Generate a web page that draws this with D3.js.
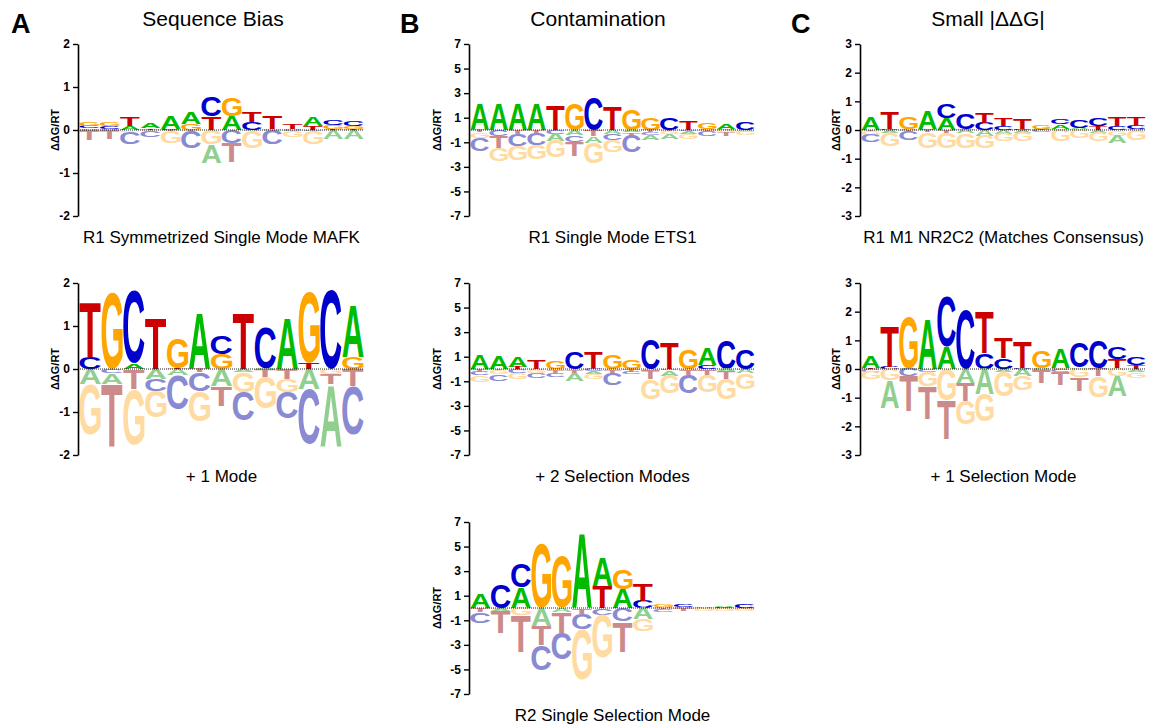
<!DOCTYPE html>
<html>
<head>
<meta charset="utf-8">
<script src="https://cdn.jsdelivr.net/npm/d3@7"></script>
<style>
  body { margin: 0; background: #fff; }
  svg text { font-family: "Liberation Sans", Arial, Helvetica, sans-serif; }
</style>
</head>
<body>
<svg id="fig" width="1158" height="725"></svg>
<script>
// ---- data: ΔΔG/RT per position, columns in the order of `bases` ----
const bases = ["A", "C", "G", "T"];

const mafkR1 = [
  [0.04, 0.05, 0.10, -0.23], [0.02, 0.07, 0.10, -0.22], [0.09, -0.28, -0.04, 0.22],
  [0.12, -0.14, -0.02, 0.04], [0.30, 0.03, -0.28, -0.03], [0.27, -0.40, 0.15, -0.03],
  [-0.43, 0.46, -0.33, 0.31], [0.33, -0.31, 0.44, -0.44], [-0.03, 0.18, -0.40, 0.25],
  [-0.02, -0.32, 0.03, 0.30], [0.03, -0.02, -0.14, 0.12], [0.21, -0.02, -0.30, 0.10],
  [-0.22, 0.11, 0.09, 0.02], [-0.22, 0.12, 0.05, 0.03]
];

const mafkPlusMode = [
  [-0.36, 0.28, -1.17, 1.28], [-0.25, -0.10, 1.77, -1.45], [0.13, 1.67, -1.30, -0.46],
  [-0.23, -0.28, -0.62, 1.18], [-0.15, -0.80, 0.71, 0.02], [1.30, -0.43, -0.70, -0.08],
  [-0.40, 0.43, 0.35, -0.46], [-0.06, -0.66, -0.47, 1.30], [0.02, 0.95, -0.74, -0.18],
  [1.18, -0.62, -0.30, -0.23], [-0.47, -1.28, 1.65, 0.15], [-1.43, 1.84, -0.12, -0.23],
  [1.20, -1.12, 0.27, -0.40]
];

const ets1R1 = [
  [2.10, -1.10, -0.45, -0.20], [2.15, -0.50, -1.05, -0.95], [2.15, -0.95, -1.15, -0.35],
  [2.15, -0.90, -1.15, -0.35], [-0.60, -0.30, -1.35, 2.05], [-0.40, -0.55, 2.10, -1.20],
  [-0.55, 2.70, -1.70, -0.50], [-0.30, -0.55, -0.95, 1.90], [-0.20, -1.35, 1.70, -0.25],
  [-0.40, -0.25, 0.95, -0.15], [-0.40, 0.95, -0.25, -0.10], [-0.20, -0.10, -0.40, 0.68],
  [0.05, -0.40, 0.55, -0.10], [0.45, 0.10, -0.15, -0.35], [-0.05, 0.65, -0.30, -0.10]
];

const ets1TwoModes = [
  [1.15, -0.30, -0.55, -0.22], [1.00, -0.55, -0.30, -0.10], [0.85, -0.30, -0.55, 0.15],
  [-0.10, -0.45, -0.20, 0.70], [-0.10, -0.35, 0.65, -0.20], [-0.60, 1.33, -0.10, -0.30],
  [-0.25, -0.15, -0.40, 1.40], [-0.10, -0.95, 1.15, -0.30], [-0.10, -0.20, 0.75, -0.15],
  [-0.10, 2.45, -1.65, -0.70], [-0.45, -0.10, -1.45, 2.10], [-0.10, -1.45, 1.65, -0.40],
  [1.35, 0.30, -1.35, -0.55], [-0.20, 2.40, -1.70, -0.60], [-0.30, 1.60, -1.30, -0.05]
];

const r2Selection = [
  [1.15, -0.85, -0.05, -0.30], [-0.20, 1.95, -0.05, -1.75], [1.65, 1.95, -0.60, -3.00],
  [-1.45, -2.05, 5.20, -1.55], [-0.35, -2.15, 4.15, -1.65], [6.00, -1.25, -4.10, -0.45],
  [2.30, -0.55, -3.50, 1.80], [1.55, -1.10, 1.65, -2.45], [-0.90, 0.60, -1.00, 1.35],
  [0.05, -0.20, 0.25, -0.10], [0.05, 0.15, -0.05, -0.20], [0.12, 0.03, -0.20, -0.02],
  [0.08, 0.05, -0.20, -0.03], [-0.02, 0.30, -0.15, -0.05]
];

const nr2c2R1 = [
  [0.47, -0.25, -0.12, -0.05], [-0.10, 0.05, -0.45, 0.60], [0.02, -0.32, 0.40, -0.05],
  [0.65, 0.02, -0.55, -0.08], [0.42, 0.52, -0.55, -0.10], [-0.12, 0.55, -0.50, 0.02],
  [-0.20, 0.25, -0.45, 0.37], [-0.15, 0.15, -0.25, 0.25], [-0.10, 0.02, -0.30, 0.35],
  [0.03, -0.08, 0.12, 0.02], [0.15, 0.16, -0.40, 0.05], [0.03, 0.25, -0.30, 0.02],
  [-0.10, 0.25, -0.30, 0.15], [-0.25, 0.15, -0.20, 0.30], [0.03, 0.15, -0.35, 0.25]
];

const nr2c2Selection = [
  [0.40, -0.10, -0.25, 0.02], [-0.95, 0.08, -0.40, 1.40], [0.02, -0.25, 1.77, -1.20],
  [1.74, -0.10, -0.50, -1.15], [0.78, 1.75, -1.10, -1.35], [-0.48, 2.05, -0.82, -0.64],
  [-0.88, 0.55, -0.95, 1.45], [-0.10, 0.38, -0.85, 0.70], [-0.25, 0.03, -0.50, 0.90],
  [0.02, -0.05, 0.57, -0.45], [0.66, -0.10, 0.03, -0.45], [0.05, 0.85, -0.30, -0.45],
  [0.02, 0.95, -0.75, -0.25], [-0.70, 0.40, -0.25, 0.35], [-0.10, 0.28, -0.20, 0.12]
];

const ticksA = [-2, -1, 0, 1, 2];
const ticksB = [-7, -5, -3, -1, 1, 3, 5, 7];
const ticksC = [-3, -2, -1, 0, 1, 2, 3];

// ---- layout ----
const colourOn  = { A: "#00bb00", C: "#0000cc", G: "#ffa500", T: "#cc0000" };
const colourOff = { A: "#90cf90", C: "#8a8ad2", G: "#ffdba2", T: "#cc8a8a" };

const columns = [
  { x: 78,  labelDx: 23, title: "Sequence Bias", titleX: 213, tag: "A", tagX: 11 },
  { x: 469, labelDx: 32, title: "Contamination", titleX: 598, tag: "B", tagX: 400 },
  { x: 860, labelDx: 24, title: "Small |ΔΔG|",   titleX: 988, tag: "C", tagX: 791 }
];
const rowTops = [44, 283, 522];
const plotH = 172;
const logoW = 284;

const panels = [
  { col: 0, row: 0, data: mafkR1,         lim: 2, ticks: ticksA, label: "R1 Symmetrized Single Mode MAFK" },
  { col: 0, row: 1, data: mafkPlusMode,   lim: 2, ticks: ticksA, label: "+ 1 Mode" },
  { col: 1, row: 0, data: ets1R1,         lim: 7, ticks: ticksB, label: "R1 Single Mode ETS1" },
  { col: 1, row: 1, data: ets1TwoModes,   lim: 7, ticks: ticksB, label: "+ 2 Selection Modes" },
  { col: 1, row: 2, data: r2Selection,    lim: 7, ticks: ticksB, label: "R2 Single Selection Mode" },
  { col: 2, row: 0, data: nr2c2R1,        lim: 3, ticks: ticksC, label: "R1 M1 NR2C2 (Matches Consensus)" },
  { col: 2, row: 1, data: nr2c2Selection, lim: 3, ticks: ticksC, label: "+ 1 Selection Mode" }
];

// glyph ink boxes, used to stretch each letter to fill its cell exactly
const LETTER_FONT = "'Liberation Sans', Arial, Helvetica, sans-serif";
const ctx = document.createElement("canvas").getContext("2d");
ctx.font = "bold 100px " + LETTER_FONT;
const ink = {};
bases.forEach(b => {
  const m = ctx.measureText(b);
  ink[b] = { l: m.actualBoundingBoxLeft, r: m.actualBoundingBoxRight,
             a: m.actualBoundingBoxAscent, d: m.actualBoundingBoxDescent };
});

const svg = d3.select("#fig");

// column headings and panel tags
columns.forEach(c => {
  svg.append("text").attr("x", c.titleX).attr("y", 26)
    .attr("text-anchor", "middle").attr("font-size", 21).text(c.title);
  svg.append("text").attr("x", c.tagX).attr("y", 33)
    .attr("font-size", 27).attr("font-weight", "bold").text(c.tag);
});

panels.forEach(p => {
  const c = columns[p.col];
  const top = rowTops[p.row];
  const g = svg.append("g");

  const y = d3.scaleLinear().domain([-p.lim, p.lim]).range([top + plotH, top]);
  const x = d3.scaleBand().domain(d3.range(p.data.length))
    .range([c.x + 1.5, c.x + 1.5 + logoW]).paddingInner(0.03);

  // letters, stacked outward from zero with the largest magnitude outermost
  const cells = [];
  p.data.forEach((row, i) => {
    const entries = row.map((v, k) => ({ b: bases[k], v }));
    const pos = entries.filter(e => e.v > 0).sort((a, b) => a.v - b.v);
    const neg = entries.filter(e => e.v < 0).sort((a, b) => b.v - a.v);
    let acc = 0;
    pos.forEach(e => { cells.push({ i, b: e.b, lo: acc, hi: acc + e.v, on: true }); acc += e.v; });
    acc = 0;
    neg.forEach(e => { cells.push({ i, b: e.b, lo: acc + e.v, hi: acc, on: false }); acc += e.v; });
  });

  g.selectAll("text.letter").data(cells).join("text")
    .attr("class", "letter")
    .attr("font-size", 100)
    .attr("font-weight", "bold")
    .style("font-family", LETTER_FONT)
    .attr("fill", d => d.on ? colourOn[d.b] : colourOff[d.b])
    .attr("transform", d => {
      const m = ink[d.b];
      const x0 = x(d.i), w = x.bandwidth();
      const y0 = y(d.hi), h = Math.max(0.01, y(d.lo) - y(d.hi));
      const sx = w / (m.l + m.r), sy = h / (m.a + m.d);
      return `translate(${x0 + m.l * sx},${y0 + m.a * sy}) scale(${sx},${sy})`;
    })
    .text(d => d.b);

  // dotted zero line
  g.append("line")
    .attr("x1", c.x).attr("x2", c.x + 1.5 + logoW)
    .attr("y1", y(0)).attr("y2", y(0))
    .attr("stroke", "#222").attr("stroke-width", 1).attr("stroke-dasharray", "1,1");

  // y axis
  const ax = g.append("g").attr("transform", `translate(${c.x},0)`)
    .call(d3.axisLeft(y).tickValues(p.ticks).tickSize(5).tickSizeOuter(0).tickPadding(3)
      .tickFormat(d => String(d)));
  ax.select(".domain").attr("stroke", "#000").attr("stroke-width", 1.6);
  ax.selectAll(".tick line").attr("stroke", "#000").attr("stroke-width", 1.4);
  ax.selectAll(".tick text").attr("font-size", 12).attr("font-weight", "bold")
    .attr("fill", "#000").style("font-family", LETTER_FONT);

  g.append("text")
    .attr("transform", `translate(${c.x - c.labelDx},${top + plotH / 2}) rotate(-90)`)
    .attr("text-anchor", "middle").attr("dy", "0.35em")
    .attr("font-size", 11).attr("font-weight", "bold").text("ΔΔG/RT");

  // panel caption
  g.append("text")
    .attr("x", c.x + 1.5 + logoW / 2).attr("y", top + plotH + 27)
    .attr("text-anchor", "middle").attr("font-size", 17).text(p.label);
});
</script>
</body>
</html>
